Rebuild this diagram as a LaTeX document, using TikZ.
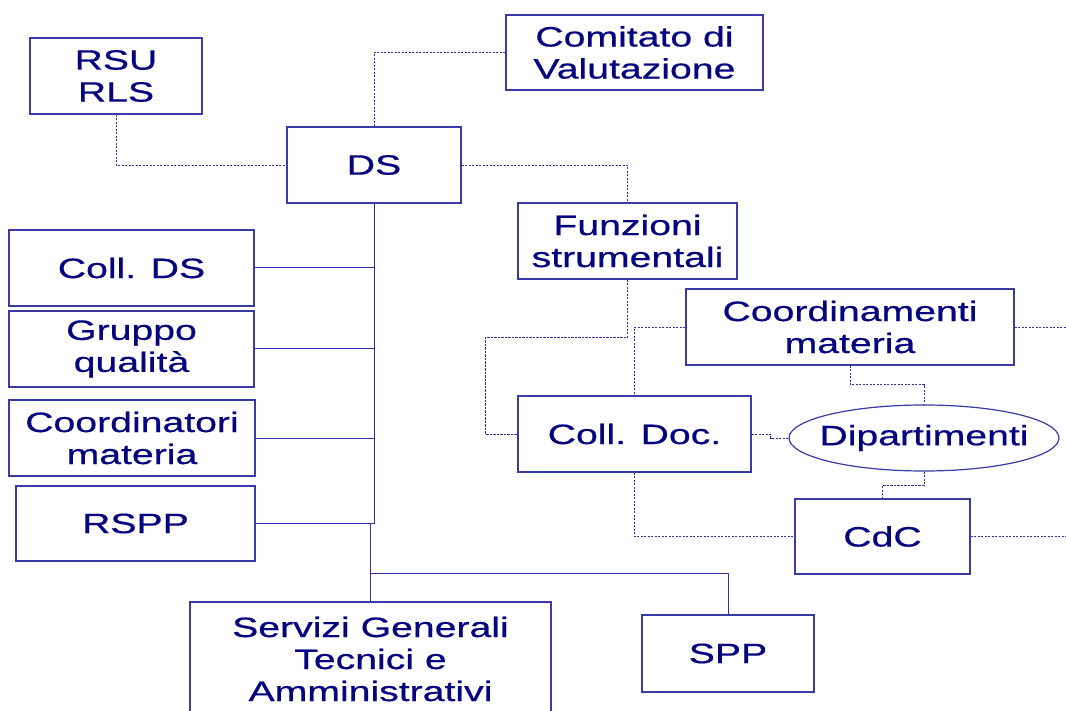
\documentclass[tikz,border=0pt]{standalone}
\usepackage{fontspec}
\setmainfont{Liberation Sans}[FakeStretch=1.40,FakeBold=0.6]
\usetikzlibrary{shapes.geometric,calc}
\definecolor{txtc}{HTML}{050580}
\definecolor{boxc}{HTML}{3A3AA6}
\definecolor{linec}{HTML}{3030A0}
\tikzset{
  orgbox/.style={draw=boxc, line width=1.2pt, rectangle, inner sep=0pt, align=center,
    text=txtc, font=\fontsize{28}{32}\selectfont},
  orgell/.style={draw=boxc, line width=1.2pt, ellipse, inner sep=0pt, align=center,
    text=txtc, font=\fontsize{28}{32}\selectfont},
  solidlink/.style={draw=linec, line width=1pt},
  dashlink/.style={draw=linec, line width=0.9pt, dash pattern=on 2.2pt off 1.3pt},
}
\begin{document}
\begin{tikzpicture}[x=1pt,y=-1pt]
\useasboundingbox (0,0) rectangle (1066,711);
\fill[white] (0,0) rectangle (1066,711);
\clip (0,0) rectangle (1066,711);
% boxes
\node[orgbox, minimum width=172pt, minimum height=76pt] (rsu) at (116,76) {RSU\\RLS};
\node[orgbox, minimum width=257pt, minimum height=75pt] (com) at (634.5,52.5) {Comitato di\\Valutazione};
\node[orgbox, minimum width=174pt, minimum height=76pt] (ds) at (374,165) {DS};
\node[orgbox, minimum width=219pt, minimum height=76pt] (fun) at (627.5,241) {Funzioni\\strumentali};
\node[orgbox, minimum width=245pt, minimum height=76pt] (colds) at (131.5,268) {Coll. DS};
\node[orgbox, minimum width=245pt, minimum height=76pt] (gq) at (131.5,349) {Gruppo\\qualità};
\node[orgbox, minimum width=246pt, minimum height=76pt] (cm) at (132,438) {Coordinatori\\materia};
\node[orgbox, minimum width=239pt, minimum height=75pt] (rspp) at (135.5,523.5) {RSPP};
\node[orgbox, minimum width=361pt, minimum height=114pt] (serv) at (370.5,659) {Servizi Generali\\Tecnici e\\Amministrativi};
\node[orgbox, minimum width=172pt, minimum height=77pt] (spp) at (728,653.5) {SPP};
\node[orgbox, minimum width=328pt, minimum height=76pt] (coord) at (850,327) {Coordinamenti\\materia};
\node[orgbox, minimum width=233pt, minimum height=76pt] (colldoc) at (634.5,434) {Coll. Doc.};
\node[orgell, minimum width=270pt, minimum height=66pt] (dip) at (924,438) {\makebox[0pt]{Dipartimenti}};
\node[orgbox, minimum width=175pt, minimum height=75pt] (cdc) at (882.5,536.5) {CdC};
% free ends
\coordinate (sj) at (370.5,573);
\coordinate (coordR) at (1070,327);
\coordinate (cdcR) at (1070,536.5);
% solid connectors
\draw[solidlink] (ds.south) -- (ds.south |- rspp.east) -| (serv.north);
\draw[solidlink] (colds.east) -- (colds.east -| ds.south);
\draw[solidlink] (gq.east) -- (gq.east -| ds.south);
\draw[solidlink] (cm.east) -- (cm.east -| ds.south);
\draw[solidlink] (rspp.east) -- (rspp.east -| ds.south);
\draw[solidlink] (sj) -| (spp.north);
% dashed connectors
\draw[dashlink] (rsu.south) |- (ds.west);
\draw[dashlink] (ds.north) |- (com.west);
\draw[dashlink] (ds.east) -| (fun.north);
\draw[dashlink] (fun.south) -- ++(0,58) -| ($(colldoc.west)+(-32,0)$) -- (colldoc.west);
\draw[dashlink] (coord.west) -| (colldoc.north);
\draw[dashlink] (coord.east) -- (coordR);
\draw[dashlink] (coord.south) -- ++(0,19) -| (dip.north);
\draw[dashlink] (colldoc.east) -- ++(19,0) -- ++(0,4) -- (dip.west);
\draw[dashlink] (dip.south) -- ++(0,14) -| (cdc.north);
\draw[dashlink] (colldoc.south) |- (cdc.west);
\draw[dashlink] (cdc.east) -- (cdcR);
\end{tikzpicture}
\end{document}
